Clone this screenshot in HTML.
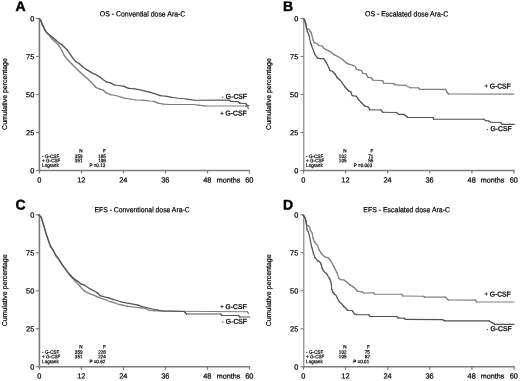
<!DOCTYPE html>
<html><head><meta charset="utf-8"><style>
html,body{margin:0;padding:0;background:#fff;}
svg{display:block;}
text{font-family:"Liberation Sans", sans-serif;fill:#000;stroke:#000;stroke-width:0.22px;}
</style></head><body>
<svg width="520" height="381" viewBox="0 0 520 381">
<rect width="520" height="381" fill="#fff"/>
<g opacity="0.999">
<path d="M39.4 17.9V171.3" fill="none" stroke="#7a7a7a" stroke-width="1.6"/>
<path d="M39.1 170.5H250.1" fill="none" stroke="#7d7d7d" stroke-width="1.6"/>
<path d="M35.8 18.5H39.5" stroke="#7d7d7d" stroke-width="1.2"/>
<text transform="matrix(1.0 0.001 0 1 34.3 21.2)" font-size="7.4" text-anchor="end">0</text>
<path d="M35.8 56.5H39.5" stroke="#7d7d7d" stroke-width="1.2"/>
<text transform="matrix(1.0 0.001 0 1 34.3 59.2)" font-size="7.4" text-anchor="end">75</text>
<path d="M35.8 94.5H39.5" stroke="#7d7d7d" stroke-width="1.2"/>
<text transform="matrix(1.0 0.001 0 1 34.3 97.2)" font-size="7.4" text-anchor="end">50</text>
<path d="M35.8 132.5H39.5" stroke="#7d7d7d" stroke-width="1.2"/>
<text transform="matrix(1.0 0.001 0 1 34.3 135.2)" font-size="7.4" text-anchor="end">25</text>
<path d="M35.8 170.5H39.5" stroke="#7d7d7d" stroke-width="1.2"/>
<text transform="matrix(1.0 0.001 0 1 34.3 173.2)" font-size="7.4" text-anchor="end">0</text>
<path d="M39.5 170.5V173.5" stroke="#7d7d7d" stroke-width="1.2"/>
<text transform="matrix(1.0 0.001 0 1 39.3 182.6)" font-size="7.4" text-anchor="middle">0</text>
<path d="M81.5 170.5V173.5" stroke="#7d7d7d" stroke-width="1.2"/>
<text transform="matrix(1.0 0.001 0 1 81.3 182.6)" font-size="7.4" text-anchor="middle">12</text>
<path d="M123.5 170.5V173.5" stroke="#7d7d7d" stroke-width="1.2"/>
<text transform="matrix(1.0 0.001 0 1 123.3 182.6)" font-size="7.4" text-anchor="middle">24</text>
<path d="M165.5 170.5V173.5" stroke="#7d7d7d" stroke-width="1.2"/>
<text transform="matrix(1.0 0.001 0 1 165.3 182.6)" font-size="7.4" text-anchor="middle">36</text>
<path d="M207.5 170.5V173.5" stroke="#7d7d7d" stroke-width="1.2"/>
<text transform="matrix(1.0 0.001 0 1 207.3 182.6)" font-size="7.4" text-anchor="middle">48</text>
<path d="M249.5 170.5V173.5" stroke="#7d7d7d" stroke-width="1.2"/>
<text transform="matrix(1.0 0.001 0 1 249.3 182.6)" font-size="7.4" text-anchor="middle">60</text>
<text transform="matrix(1.0 0.001 0 1 216.8 182.6)" font-size="7.2">months</text>
<text transform="matrix(0.925 0.001 0 1 142.6 16.4)" font-size="7.5" text-anchor="middle">OS - Convential dose Ara-C</text>
<text transform="matrix(1.0 0.001 0 1 15.4 11)" font-size="14" font-weight="bold" style="stroke-width:0.45px">A</text>
<text transform="matrix(0.92 0.001 0 1 82.5 152.5)" font-size="5.0" text-anchor="end">N</text>
<text transform="matrix(0.92 0.001 0 1 105.8 152.5)" font-size="5.0" text-anchor="end">F</text>
<text transform="matrix(0.92 0.001 0 1 42.1 157.9)" font-size="5.0">- G-CSF</text>
<text transform="matrix(0.92 0.001 0 1 82.5 157.9)" font-size="5.0" text-anchor="end">359</text>
<text transform="matrix(0.92 0.001 0 1 105.8 157.9)" font-size="5.0" text-anchor="end">185</text>
<text transform="matrix(0.92 0.001 0 1 42.1 162.3)" font-size="5.0">+ G-CSF</text>
<text transform="matrix(0.92 0.001 0 1 82.5 162.3)" font-size="5.0" text-anchor="end">351</text>
<text transform="matrix(0.92 0.001 0 1 105.8 162.3)" font-size="5.0" text-anchor="end">198</text>
<text transform="matrix(0.92 0.001 0 1 42.1 167)" font-size="5.0">Logrank</text>
<text transform="matrix(0.92 0.001 0 1 105.3 167)" font-size="5.0" text-anchor="end">P =0.13</text>
<path d="M39.6 18.9 L41.2 21.3" fill="none" stroke="#808080" stroke-width="1.35" stroke-linejoin="round" stroke-linecap="round"/>
<path d="M41.2 21.3 L42.2 24.4" fill="none" stroke="#808080" stroke-width="1.3" stroke-linejoin="round" stroke-linecap="round"/>
<path d="M42.2 24.4 L43.8 27.6 L45.4 30.7" fill="none" stroke="#808080" stroke-width="1.35" stroke-linejoin="round" stroke-linecap="round"/>
<path d="M45.4 30.7 L46.9 32.8 L48.5 34.4 L51.7 38.6 L54.8 41.7 L58 44.4" fill="none" stroke="#808080" stroke-width="1.4" stroke-linejoin="round" stroke-linecap="round"/>
<path d="M58 44.4 L60.1 47.5 L62.2 51.2 L64.2 55.3" fill="none" stroke="#808080" stroke-width="1.35" stroke-linejoin="round" stroke-linecap="round"/>
<path d="M64.2 55.3 L67.4 59.5 L71.6 63.7 L75.8 67.9 L80 72.1 L84.2 75.7 L88.4 79.4 L92.6 83.6 L95.7 87.3" fill="none" stroke="#808080" stroke-width="1.4" stroke-linejoin="round" stroke-linecap="round"/>
<path d="M95.7 87.3 L99.9 89.2" fill="none" stroke="#808080" stroke-width="1.35" stroke-linejoin="round" stroke-linecap="round"/>
<path d="M99.9 89.2 L103.2 90.2" fill="none" stroke="#808080" stroke-width="1.3" stroke-linejoin="round" stroke-linecap="round"/>
<path d="M103.2 90.2 L106.3 92.9" fill="none" stroke="#808080" stroke-width="1.4" stroke-linejoin="round" stroke-linecap="round"/>
<path d="M106.3 92.9 L110.5 94.7" fill="none" stroke="#808080" stroke-width="1.35" stroke-linejoin="round" stroke-linecap="round"/>
<path d="M110.5 94.7 L115.8 95.5" fill="none" stroke="#808080" stroke-width="1.25" stroke-linejoin="round" stroke-linecap="round"/>
<path d="M115.8 95.5 L121 97.1 L125.2 98.3" fill="none" stroke="#808080" stroke-width="1.3" stroke-linejoin="round" stroke-linecap="round"/>
<path d="M125.2 98.3 L130.5 99" fill="none" stroke="#808080" stroke-width="1.2" stroke-linejoin="round" stroke-linecap="round"/>
<path d="M130.5 99 L135.7 100" fill="none" stroke="#808080" stroke-width="1.25" stroke-linejoin="round" stroke-linecap="round"/>
<path d="M135.7 100 L142 100.2" fill="none" stroke="#808080" stroke-width="1.15" stroke-linejoin="round" stroke-linecap="round"/>
<path d="M142 100.2 L147.3 100.7 L150 101 L154.2 101.3" fill="none" stroke="#808080" stroke-width="1.2" stroke-linejoin="round" stroke-linecap="round"/>
<path d="M154.2 101.3 L157.7 103.1" fill="none" stroke="#808080" stroke-width="1.35" stroke-linejoin="round" stroke-linecap="round"/>
<path d="M157.7 103.1 L163.5 104.2" fill="none" stroke="#808080" stroke-width="1.25" stroke-linejoin="round" stroke-linecap="round"/>
<path d="M163.5 104.2 L168.1 104.4 L193.5 104.5" fill="none" stroke="#808080" stroke-width="1.15" stroke-linejoin="round" stroke-linecap="round"/>
<path d="M193.5 104.5 L198.1 105.2" fill="none" stroke="#808080" stroke-width="1.25" stroke-linejoin="round" stroke-linecap="round"/>
<path d="M198.1 105.2 L204.2 105.9" fill="none" stroke="#808080" stroke-width="1.2" stroke-linejoin="round" stroke-linecap="round"/>
<path d="M204.2 105.9 L210.4 106 L245.7 106" fill="none" stroke="#808080" stroke-width="1.15" stroke-linejoin="round" stroke-linecap="round"/>
<path d="M245.7 106 L247.8 107.1" fill="none" stroke="#808080" stroke-width="1.35" stroke-linejoin="round" stroke-linecap="round"/>
<path d="M247.8 107.1 L248.3 108.7" fill="none" stroke="#808080" stroke-width="1.3" stroke-linejoin="round" stroke-linecap="round"/>
<path d="M39.6 18.9 L41.2 21.3" fill="none" stroke="#525252" stroke-width="1.3" stroke-linejoin="round" stroke-linecap="round"/>
<path d="M41.2 21.3 L42.2 24.4" fill="none" stroke="#525252" stroke-width="1.25" stroke-linejoin="round" stroke-linecap="round"/>
<path d="M42.2 24.4 L43.8 27.6 L45.4 30.7 L46.9 32.8 L49.6 34.9 L52.7 37.5" fill="none" stroke="#525252" stroke-width="1.3" stroke-linejoin="round" stroke-linecap="round"/>
<path d="M52.7 37.5 L55.9 40.2" fill="none" stroke="#525252" stroke-width="1.35" stroke-linejoin="round" stroke-linecap="round"/>
<path d="M55.9 40.2 L59 42.8 L62.2 44.9" fill="none" stroke="#525252" stroke-width="1.3" stroke-linejoin="round" stroke-linecap="round"/>
<path d="M62.2 44.9 L65.3 48 L67.4 50" fill="none" stroke="#525252" stroke-width="1.35" stroke-linejoin="round" stroke-linecap="round"/>
<path d="M67.4 50 L69.5 53.2 L72.6 57.9" fill="none" stroke="#525252" stroke-width="1.3" stroke-linejoin="round" stroke-linecap="round"/>
<path d="M72.6 57.9 L75.8 61.6" fill="none" stroke="#525252" stroke-width="1.35" stroke-linejoin="round" stroke-linecap="round"/>
<path d="M75.8 61.6 L79.4 63.7" fill="none" stroke="#525252" stroke-width="1.3" stroke-linejoin="round" stroke-linecap="round"/>
<path d="M79.4 63.7 L82.1 66.3" fill="none" stroke="#525252" stroke-width="1.35" stroke-linejoin="round" stroke-linecap="round"/>
<path d="M82.1 66.3 L86.3 69.4 L91.5 72.6 L96.8 75.2 L100 77.1 L103.2 79.7 L106.3 81.8" fill="none" stroke="#525252" stroke-width="1.3" stroke-linejoin="round" stroke-linecap="round"/>
<path d="M106.3 81.8 L110.5 82.9" fill="none" stroke="#525252" stroke-width="1.2" stroke-linejoin="round" stroke-linecap="round"/>
<path d="M110.5 82.9 L114.7 85" fill="none" stroke="#525252" stroke-width="1.3" stroke-linejoin="round" stroke-linecap="round"/>
<path d="M114.7 85 L118.9 85.5" fill="none" stroke="#525252" stroke-width="1.15" stroke-linejoin="round" stroke-linecap="round"/>
<path d="M118.9 85.5 L124.2 86.3" fill="none" stroke="#525252" stroke-width="1.2" stroke-linejoin="round" stroke-linecap="round"/>
<path d="M124.2 86.3 L128.4 88.4" fill="none" stroke="#525252" stroke-width="1.3" stroke-linejoin="round" stroke-linecap="round"/>
<path d="M128.4 88.4 L133.6 88.7" fill="none" stroke="#525252" stroke-width="1.15" stroke-linejoin="round" stroke-linecap="round"/>
<path d="M133.6 88.7 L138.9 89.7 L144.1 90.8 L149.6 92.1" fill="none" stroke="#525252" stroke-width="1.2" stroke-linejoin="round" stroke-linecap="round"/>
<path d="M149.6 92.1 L155.4 93.8 L160 95.6" fill="none" stroke="#525252" stroke-width="1.25" stroke-linejoin="round" stroke-linecap="round"/>
<path d="M160 95.6 L165.8 96.2" fill="none" stroke="#525252" stroke-width="1.15" stroke-linejoin="round" stroke-linecap="round"/>
<path d="M165.8 96.2 L171.5 97.3" fill="none" stroke="#525252" stroke-width="1.2" stroke-linejoin="round" stroke-linecap="round"/>
<path d="M171.5 97.3 L178.5 98.2 L184.2 98.8 L188.8 99.4 L194.6 100.2" fill="none" stroke="#525252" stroke-width="1.15" stroke-linejoin="round" stroke-linecap="round"/>
<path d="M194.6 100.2 L229.1 100.1" fill="none" stroke="#525252" stroke-width="1.1" stroke-linejoin="round" stroke-linecap="round"/>
<path d="M229.1 100.1 L230.6 101.4" fill="none" stroke="#525252" stroke-width="1.35" stroke-linejoin="round" stroke-linecap="round"/>
<path d="M230.6 101.4 L238.4 101.6" fill="none" stroke="#525252" stroke-width="1.1" stroke-linejoin="round" stroke-linecap="round"/>
<path d="M238.4 101.6 L240 103.3" fill="none" stroke="#525252" stroke-width="1.35" stroke-linejoin="round" stroke-linecap="round"/>
<path d="M240 103.3 L245.7 103.5" fill="none" stroke="#525252" stroke-width="1.1" stroke-linejoin="round" stroke-linecap="round"/>
<path d="M245.7 103.5 L247.2 105.4" fill="none" stroke="#525252" stroke-width="1.3" stroke-linejoin="round" stroke-linecap="round"/>
<path d="M247.2 105.4 L248.8 105.8" fill="none" stroke="#525252" stroke-width="1.2" stroke-linejoin="round" stroke-linecap="round"/>
<text transform="matrix(0.97 0.001 0 1 225.87 98.7)" font-size="7.0" style="stroke-width:0.32px">G-CSF</text>
<text transform="matrix(1.0 0.001 0 1 222.7 98.55)" font-size="5.2" text-anchor="middle">-</text>
<text transform="matrix(0.97 0.001 0 1 225.47 115.6)" font-size="7.0" style="stroke-width:0.32px">G-CSF</text>
<text transform="matrix(1.0 0.001 0 1 222 115.2)" font-size="5.9" text-anchor="middle">+</text>
<path d="M303.7 17.9V171.3" fill="none" stroke="#9c9c9c" stroke-width="1.5"/>
<path d="M303.1 170.5H514.6" fill="none" stroke="#7d7d7d" stroke-width="1.6"/>
<path d="M300.5 18.5H303.5" stroke="#7d7d7d" stroke-width="1.2"/>
<text transform="matrix(1.0 0.001 0 1 298.3 21.2)" font-size="7.4" text-anchor="end">0</text>
<path d="M300.5 56.5H303.5" stroke="#7d7d7d" stroke-width="1.2"/>
<text transform="matrix(1.0 0.001 0 1 298.3 59.2)" font-size="7.4" text-anchor="end">75</text>
<path d="M300.5 94.5H303.5" stroke="#7d7d7d" stroke-width="1.2"/>
<text transform="matrix(1.0 0.001 0 1 298.3 97.2)" font-size="7.4" text-anchor="end">50</text>
<path d="M300.5 132.5H303.5" stroke="#7d7d7d" stroke-width="1.2"/>
<text transform="matrix(1.0 0.001 0 1 298.3 135.2)" font-size="7.4" text-anchor="end">25</text>
<path d="M300.5 170.5H303.5" stroke="#7d7d7d" stroke-width="1.2"/>
<text transform="matrix(1.0 0.001 0 1 298.3 173.2)" font-size="7.4" text-anchor="end">0</text>
<path d="M303.5 170.5V173.5" stroke="#7d7d7d" stroke-width="1.2"/>
<text transform="matrix(1.0 0.001 0 1 303.3 182.6)" font-size="7.4" text-anchor="middle">0</text>
<path d="M345.6 170.5V173.5" stroke="#7d7d7d" stroke-width="1.2"/>
<text transform="matrix(1.0 0.001 0 1 345.4 182.6)" font-size="7.4" text-anchor="middle">12</text>
<path d="M387.7 170.5V173.5" stroke="#7d7d7d" stroke-width="1.2"/>
<text transform="matrix(1.0 0.001 0 1 387.5 182.6)" font-size="7.4" text-anchor="middle">24</text>
<path d="M429.8 170.5V173.5" stroke="#7d7d7d" stroke-width="1.2"/>
<text transform="matrix(1.0 0.001 0 1 429.6 182.6)" font-size="7.4" text-anchor="middle">36</text>
<path d="M471.9 170.5V173.5" stroke="#7d7d7d" stroke-width="1.2"/>
<text transform="matrix(1.0 0.001 0 1 471.7 182.6)" font-size="7.4" text-anchor="middle">48</text>
<path d="M514 170.5V173.5" stroke="#7d7d7d" stroke-width="1.2"/>
<text transform="matrix(1.0 0.001 0 1 513.8 182.6)" font-size="7.4" text-anchor="middle">60</text>
<text transform="matrix(1.0 0.001 0 1 480.8 182.6)" font-size="7.2">months</text>
<text transform="matrix(0.925 0.001 0 1 406.6 16.4)" font-size="7.5" text-anchor="middle">OS - Escalated dose Ara-C</text>
<text transform="matrix(1.0 0.001 0 1 283.1 11)" font-size="14" font-weight="bold" style="stroke-width:0.45px">B</text>
<text transform="matrix(0.92 0.001 0 1 346.5 152.5)" font-size="5.0" text-anchor="end">N</text>
<text transform="matrix(0.92 0.001 0 1 373.3 152.5)" font-size="5.0" text-anchor="end">F</text>
<text transform="matrix(0.92 0.001 0 1 306.1 157.9)" font-size="5.0">- G-CSF</text>
<text transform="matrix(0.92 0.001 0 1 346.5 157.9)" font-size="5.0" text-anchor="end">102</text>
<text transform="matrix(0.92 0.001 0 1 373.3 157.9)" font-size="5.0" text-anchor="end">71</text>
<text transform="matrix(0.92 0.001 0 1 306.1 162.3)" font-size="5.0">+ G-CSF</text>
<text transform="matrix(0.92 0.001 0 1 346.5 162.3)" font-size="5.0" text-anchor="end">105</text>
<text transform="matrix(0.92 0.001 0 1 373.3 162.3)" font-size="5.0" text-anchor="end">55</text>
<text transform="matrix(0.92 0.001 0 1 306.1 167)" font-size="5.0">Logrank</text>
<text transform="matrix(0.92 0.001 0 1 372.2 167)" font-size="5.0" text-anchor="end">P =0.003</text>
<path d="M303.7 18.7 L305.8 23.9" fill="none" stroke="#808080" stroke-width="1.3" stroke-linejoin="round" stroke-linecap="round"/>
<path d="M305.8 23.9 L306.5 28.1" fill="none" stroke="#808080" stroke-width="1.25" stroke-linejoin="round" stroke-linecap="round"/>
<path d="M306.5 28.1 L307.4 29.2" fill="none" stroke="#808080" stroke-width="1.4" stroke-linejoin="round" stroke-linecap="round"/>
<path d="M307.4 29.2 L308.9 29.2" fill="none" stroke="#808080" stroke-width="1.15" stroke-linejoin="round" stroke-linecap="round"/>
<path d="M308.9 29.2 L310 31.3" fill="none" stroke="#808080" stroke-width="1.35" stroke-linejoin="round" stroke-linecap="round"/>
<path d="M310 31.3 L311 32.3" fill="none" stroke="#808080" stroke-width="1.4" stroke-linejoin="round" stroke-linecap="round"/>
<path d="M311 32.3 L312.1 36" fill="none" stroke="#808080" stroke-width="1.3" stroke-linejoin="round" stroke-linecap="round"/>
<path d="M312.1 36 L313.1 40.2" fill="none" stroke="#808080" stroke-width="1.25" stroke-linejoin="round" stroke-linecap="round"/>
<path d="M313.1 40.2 L314.2 42.8" fill="none" stroke="#808080" stroke-width="1.35" stroke-linejoin="round" stroke-linecap="round"/>
<path d="M314.2 42.8 L316.8 43.4" fill="none" stroke="#808080" stroke-width="1.25" stroke-linejoin="round" stroke-linecap="round"/>
<path d="M316.8 43.4 L318.9 45.5" fill="none" stroke="#808080" stroke-width="1.4" stroke-linejoin="round" stroke-linecap="round"/>
<path d="M318.9 45.5 L322.1 46" fill="none" stroke="#808080" stroke-width="1.25" stroke-linejoin="round" stroke-linecap="round"/>
<path d="M322.1 46 L324.2 48.6" fill="none" stroke="#808080" stroke-width="1.4" stroke-linejoin="round" stroke-linecap="round"/>
<path d="M324.2 48.6 L327.3 50.2 L331 52.1" fill="none" stroke="#808080" stroke-width="1.35" stroke-linejoin="round" stroke-linecap="round"/>
<path d="M331 52.1 L334.2 54.7" fill="none" stroke="#808080" stroke-width="1.4" stroke-linejoin="round" stroke-linecap="round"/>
<path d="M334.2 54.7 L338.4 56.8 L342.6 59.5" fill="none" stroke="#808080" stroke-width="1.35" stroke-linejoin="round" stroke-linecap="round"/>
<path d="M342.6 59.5 L345.7 62.6" fill="none" stroke="#808080" stroke-width="1.4" stroke-linejoin="round" stroke-linecap="round"/>
<path d="M345.7 62.6 L348.9 64.2" fill="none" stroke="#808080" stroke-width="1.35" stroke-linejoin="round" stroke-linecap="round"/>
<path d="M348.9 64.2 L352.3 65.2 L355.2 66.3 L356.3 69.2" fill="none" stroke="#808080" stroke-width="1.3" stroke-linejoin="round" stroke-linecap="round"/>
<path d="M356.3 69.2 L358.7 69.8" fill="none" stroke="#808080" stroke-width="1.25" stroke-linejoin="round" stroke-linecap="round"/>
<path d="M358.7 69.8 L361.5 70.6" fill="none" stroke="#808080" stroke-width="1.3" stroke-linejoin="round" stroke-linecap="round"/>
<path d="M361.5 70.6 L362.7 73.3" fill="none" stroke="#808080" stroke-width="1.35" stroke-linejoin="round" stroke-linecap="round"/>
<path d="M362.7 73.3 L366.2 73.8" fill="none" stroke="#808080" stroke-width="1.25" stroke-linejoin="round" stroke-linecap="round"/>
<path d="M366.2 73.8 L367.9 77.3" fill="none" stroke="#808080" stroke-width="1.35" stroke-linejoin="round" stroke-linecap="round"/>
<path d="M367.9 77.3 L371.3 77.9" fill="none" stroke="#808080" stroke-width="1.25" stroke-linejoin="round" stroke-linecap="round"/>
<path d="M371.3 77.9 L373.1 80.2" fill="none" stroke="#808080" stroke-width="1.4" stroke-linejoin="round" stroke-linecap="round"/>
<path d="M373.1 80.2 L382.7 80.6" fill="none" stroke="#808080" stroke-width="1.15" stroke-linejoin="round" stroke-linecap="round"/>
<path d="M382.7 80.6 L383.7 83.3" fill="none" stroke="#808080" stroke-width="1.3" stroke-linejoin="round" stroke-linecap="round"/>
<path d="M383.7 83.3 L393.8 83.6" fill="none" stroke="#808080" stroke-width="1.15" stroke-linejoin="round" stroke-linecap="round"/>
<path d="M393.8 83.6 L395.2 84.8" fill="none" stroke="#808080" stroke-width="1.4" stroke-linejoin="round" stroke-linecap="round"/>
<path d="M395.2 84.8 L405.6 85.3" fill="none" stroke="#808080" stroke-width="1.2" stroke-linejoin="round" stroke-linecap="round"/>
<path d="M405.6 85.3 L407.5 86.5 L410.4 87.7" fill="none" stroke="#808080" stroke-width="1.35" stroke-linejoin="round" stroke-linecap="round"/>
<path d="M410.4 87.7 L418.5 87.9" fill="none" stroke="#808080" stroke-width="1.15" stroke-linejoin="round" stroke-linecap="round"/>
<path d="M418.5 87.9 L419.6 89.3" fill="none" stroke="#808080" stroke-width="1.4" stroke-linejoin="round" stroke-linecap="round"/>
<path d="M419.6 89.3 L445.6 89.3" fill="none" stroke="#808080" stroke-width="1.15" stroke-linejoin="round" stroke-linecap="round"/>
<path d="M445.6 89.3 L446.7 91.7" fill="none" stroke="#808080" stroke-width="1.35" stroke-linejoin="round" stroke-linecap="round"/>
<path d="M446.7 91.7 L448.5 94" fill="none" stroke="#808080" stroke-width="1.4" stroke-linejoin="round" stroke-linecap="round"/>
<path d="M448.5 94 L514 94.1" fill="none" stroke="#808080" stroke-width="1.15" stroke-linejoin="round" stroke-linecap="round"/>
<path d="M303.7 18.7 L304.7 20.3" fill="none" stroke="#525252" stroke-width="1.3" stroke-linejoin="round" stroke-linecap="round"/>
<path d="M304.7 20.3 L305.8 23.9" fill="none" stroke="#525252" stroke-width="1.25" stroke-linejoin="round" stroke-linecap="round"/>
<path d="M305.8 23.9 L306.5 28.1 L307.4 31.8" fill="none" stroke="#525252" stroke-width="1.2" stroke-linejoin="round" stroke-linecap="round"/>
<path d="M307.4 31.8 L308.9 35" fill="none" stroke="#525252" stroke-width="1.3" stroke-linejoin="round" stroke-linecap="round"/>
<path d="M308.9 35 L310 40.2 L311 43.9" fill="none" stroke="#525252" stroke-width="1.2" stroke-linejoin="round" stroke-linecap="round"/>
<path d="M311 43.9 L312.6 48.6 L314.2 52.3" fill="none" stroke="#525252" stroke-width="1.25" stroke-linejoin="round" stroke-linecap="round"/>
<path d="M314.2 52.3 L314.7 54.2" fill="none" stroke="#525252" stroke-width="1.2" stroke-linejoin="round" stroke-linecap="round"/>
<path d="M314.7 54.2 L317.4 57.9" fill="none" stroke="#525252" stroke-width="1.3" stroke-linejoin="round" stroke-linecap="round"/>
<path d="M317.4 57.9 L320.5 58.6" fill="none" stroke="#525252" stroke-width="1.2" stroke-linejoin="round" stroke-linecap="round"/>
<path d="M320.5 58.6 L323.7 58.9" fill="none" stroke="#525252" stroke-width="1.15" stroke-linejoin="round" stroke-linecap="round"/>
<path d="M323.7 58.9 L325.8 61.6 L327.9 65.8 L330 70.5" fill="none" stroke="#525252" stroke-width="1.3" stroke-linejoin="round" stroke-linecap="round"/>
<path d="M330 70.5 L332.6 71.5" fill="none" stroke="#525252" stroke-width="1.25" stroke-linejoin="round" stroke-linecap="round"/>
<path d="M332.6 71.5 L335.2 74.2" fill="none" stroke="#525252" stroke-width="1.35" stroke-linejoin="round" stroke-linecap="round"/>
<path d="M335.2 74.2 L337.3 77.8" fill="none" stroke="#525252" stroke-width="1.3" stroke-linejoin="round" stroke-linecap="round"/>
<path d="M337.3 77.8 L340.5 80.5" fill="none" stroke="#525252" stroke-width="1.35" stroke-linejoin="round" stroke-linecap="round"/>
<path d="M340.5 80.5 L342.6 83.6 L345.2 87.2" fill="none" stroke="#525252" stroke-width="1.3" stroke-linejoin="round" stroke-linecap="round"/>
<path d="M345.2 87.2 L348.7 91" fill="none" stroke="#525252" stroke-width="1.35" stroke-linejoin="round" stroke-linecap="round"/>
<path d="M348.7 91 L351 92.1" fill="none" stroke="#525252" stroke-width="1.3" stroke-linejoin="round" stroke-linecap="round"/>
<path d="M351 92.1 L352.1 95.6" fill="none" stroke="#525252" stroke-width="1.25" stroke-linejoin="round" stroke-linecap="round"/>
<path d="M352.1 95.6 L356.2 96.2" fill="none" stroke="#525252" stroke-width="1.15" stroke-linejoin="round" stroke-linecap="round"/>
<path d="M356.2 96.2 L358.5 99.6" fill="none" stroke="#525252" stroke-width="1.3" stroke-linejoin="round" stroke-linecap="round"/>
<path d="M358.5 99.6 L361.3 102.5 L364.8 106" fill="none" stroke="#525252" stroke-width="1.35" stroke-linejoin="round" stroke-linecap="round"/>
<path d="M364.8 106 L368.3 107.1" fill="none" stroke="#525252" stroke-width="1.25" stroke-linejoin="round" stroke-linecap="round"/>
<path d="M368.3 107.1 L370 109.8" fill="none" stroke="#525252" stroke-width="1.3" stroke-linejoin="round" stroke-linecap="round"/>
<path d="M370 109.8 L381 110" fill="none" stroke="#525252" stroke-width="1.1" stroke-linejoin="round" stroke-linecap="round"/>
<path d="M381 110 L382.7 112.3" fill="none" stroke="#525252" stroke-width="1.3" stroke-linejoin="round" stroke-linecap="round"/>
<path d="M382.7 112.3 L396.5 112.5" fill="none" stroke="#525252" stroke-width="1.1" stroke-linejoin="round" stroke-linecap="round"/>
<path d="M396.5 112.5 L399 114.4" fill="none" stroke="#525252" stroke-width="1.3" stroke-linejoin="round" stroke-linecap="round"/>
<path d="M399 114.4 L403.7 114.4" fill="none" stroke="#525252" stroke-width="1.1" stroke-linejoin="round" stroke-linecap="round"/>
<path d="M403.7 114.4 L406.5 116.2" fill="none" stroke="#525252" stroke-width="1.3" stroke-linejoin="round" stroke-linecap="round"/>
<path d="M406.5 116.2 L407.7 117.5" fill="none" stroke="#525252" stroke-width="1.35" stroke-linejoin="round" stroke-linecap="round"/>
<path d="M407.7 117.5 L433.1 117.5" fill="none" stroke="#525252" stroke-width="1.1" stroke-linejoin="round" stroke-linecap="round"/>
<path d="M433.1 117.5 L433.7 119.2" fill="none" stroke="#525252" stroke-width="1.25" stroke-linejoin="round" stroke-linecap="round"/>
<path d="M433.7 119.2 L483.8 119.2" fill="none" stroke="#525252" stroke-width="1.1" stroke-linejoin="round" stroke-linecap="round"/>
<path d="M483.8 119.2 L485.6 120.6" fill="none" stroke="#525252" stroke-width="1.3" stroke-linejoin="round" stroke-linecap="round"/>
<path d="M485.6 120.6 L488.8 121" fill="none" stroke="#525252" stroke-width="1.15" stroke-linejoin="round" stroke-linecap="round"/>
<path d="M488.8 121 L490.6 122.3" fill="none" stroke="#525252" stroke-width="1.3" stroke-linejoin="round" stroke-linecap="round"/>
<path d="M490.6 122.3 L500.6 122.5" fill="none" stroke="#525252" stroke-width="1.1" stroke-linejoin="round" stroke-linecap="round"/>
<path d="M500.6 122.5 L502.3 124.4" fill="none" stroke="#525252" stroke-width="1.35" stroke-linejoin="round" stroke-linecap="round"/>
<path d="M502.3 124.4 L514.4 124.4" fill="none" stroke="#525252" stroke-width="1.1" stroke-linejoin="round" stroke-linecap="round"/>
<text transform="matrix(0.97 0.001 0 1 489.67 88.4)" font-size="7.0" style="stroke-width:0.32px">G-CSF</text>
<text transform="matrix(1.0 0.001 0 1 486.2 88)" font-size="5.9" text-anchor="middle">+</text>
<text transform="matrix(0.97 0.001 0 1 490.47 131)" font-size="7.0" style="stroke-width:0.32px">G-CSF</text>
<text transform="matrix(1.0 0.001 0 1 487.3 130.85)" font-size="5.2" text-anchor="middle">-</text>
<path d="M39.4 214.2V367.6" fill="none" stroke="#7a7a7a" stroke-width="1.6"/>
<path d="M39.1 366.8H250.1" fill="none" stroke="#7d7d7d" stroke-width="1.6"/>
<path d="M35.8 214.8H39.5" stroke="#7d7d7d" stroke-width="1.2"/>
<text transform="matrix(1.0 0.001 0 1 34.3 217.5)" font-size="7.4" text-anchor="end">0</text>
<path d="M35.8 252.8H39.5" stroke="#7d7d7d" stroke-width="1.2"/>
<text transform="matrix(1.0 0.001 0 1 34.3 255.5)" font-size="7.4" text-anchor="end">75</text>
<path d="M35.8 290.8H39.5" stroke="#7d7d7d" stroke-width="1.2"/>
<text transform="matrix(1.0 0.001 0 1 34.3 293.5)" font-size="7.4" text-anchor="end">50</text>
<path d="M35.8 328.8H39.5" stroke="#7d7d7d" stroke-width="1.2"/>
<text transform="matrix(1.0 0.001 0 1 34.3 331.5)" font-size="7.4" text-anchor="end">25</text>
<path d="M35.8 366.8H39.5" stroke="#7d7d7d" stroke-width="1.2"/>
<text transform="matrix(1.0 0.001 0 1 34.3 369.5)" font-size="7.4" text-anchor="end">0</text>
<path d="M39.5 366.8V369.8" stroke="#7d7d7d" stroke-width="1.2"/>
<text transform="matrix(1.0 0.001 0 1 39.3 378.6)" font-size="7.4" text-anchor="middle">0</text>
<path d="M81.5 366.8V369.8" stroke="#7d7d7d" stroke-width="1.2"/>
<text transform="matrix(1.0 0.001 0 1 81.3 378.6)" font-size="7.4" text-anchor="middle">12</text>
<path d="M123.5 366.8V369.8" stroke="#7d7d7d" stroke-width="1.2"/>
<text transform="matrix(1.0 0.001 0 1 123.3 378.6)" font-size="7.4" text-anchor="middle">24</text>
<path d="M165.5 366.8V369.8" stroke="#7d7d7d" stroke-width="1.2"/>
<text transform="matrix(1.0 0.001 0 1 165.3 378.6)" font-size="7.4" text-anchor="middle">36</text>
<path d="M207.5 366.8V369.8" stroke="#7d7d7d" stroke-width="1.2"/>
<text transform="matrix(1.0 0.001 0 1 207.3 378.6)" font-size="7.4" text-anchor="middle">48</text>
<path d="M249.5 366.8V369.8" stroke="#7d7d7d" stroke-width="1.2"/>
<text transform="matrix(1.0 0.001 0 1 249.3 378.6)" font-size="7.4" text-anchor="middle">60</text>
<text transform="matrix(1.0 0.001 0 1 216.8 378.6)" font-size="7.2">months</text>
<text transform="matrix(0.912 0.001 0 1 142.1 212.3)" font-size="7.5" text-anchor="middle">EFS - Conventional dose Ara-C</text>
<text transform="matrix(1.0 0.001 0 1 15.6 209.5)" font-size="14" font-weight="bold" style="stroke-width:0.45px">C</text>
<text transform="matrix(0.92 0.001 0 1 82.5 348.6)" font-size="5.0" text-anchor="end">N</text>
<text transform="matrix(0.92 0.001 0 1 105.8 348.6)" font-size="5.0" text-anchor="end">F</text>
<text transform="matrix(0.92 0.001 0 1 42.1 353.8)" font-size="5.0">- G-CSF</text>
<text transform="matrix(0.92 0.001 0 1 82.5 353.8)" font-size="5.0" text-anchor="end">359</text>
<text transform="matrix(0.92 0.001 0 1 105.8 353.8)" font-size="5.0" text-anchor="end">228</text>
<text transform="matrix(0.92 0.001 0 1 42.1 358.2)" font-size="5.0">+ G-CSF</text>
<text transform="matrix(0.92 0.001 0 1 82.5 358.2)" font-size="5.0" text-anchor="end">351</text>
<text transform="matrix(0.92 0.001 0 1 105.8 358.2)" font-size="5.0" text-anchor="end">224</text>
<text transform="matrix(0.92 0.001 0 1 42.1 363.2)" font-size="5.0">Logrank</text>
<text transform="matrix(0.92 0.001 0 1 105.3 363.2)" font-size="5.0" text-anchor="end">P =0.62</text>
<path d="M39.1 215.2 L41.2 217.3" fill="none" stroke="#808080" stroke-width="1.4" stroke-linejoin="round" stroke-linecap="round"/>
<path d="M41.2 217.3 L42.8 222.5 L44.4 227.8 L45.9 233 L47.5 237.7 L49.1 242.5 L50.7 246.7" fill="none" stroke="#808080" stroke-width="1.3" stroke-linejoin="round" stroke-linecap="round"/>
<path d="M50.7 246.7 L53.2 250.3" fill="none" stroke="#808080" stroke-width="1.4" stroke-linejoin="round" stroke-linecap="round"/>
<path d="M53.2 250.3 L55.8 255.5" fill="none" stroke="#808080" stroke-width="1.35" stroke-linejoin="round" stroke-linecap="round"/>
<path d="M55.8 255.5 L58.4 258.7" fill="none" stroke="#808080" stroke-width="1.4" stroke-linejoin="round" stroke-linecap="round"/>
<path d="M58.4 258.7 L61.6 263.9" fill="none" stroke="#808080" stroke-width="1.35" stroke-linejoin="round" stroke-linecap="round"/>
<path d="M61.6 263.9 L64.7 268.1 L67.9 272.3 L71 276.5 L75 281 L78.2 284.2 L81.3 287.9 L84.5 291" fill="none" stroke="#808080" stroke-width="1.4" stroke-linejoin="round" stroke-linecap="round"/>
<path d="M84.5 291 L87.6 292.6 L90.8 294.2" fill="none" stroke="#808080" stroke-width="1.35" stroke-linejoin="round" stroke-linecap="round"/>
<path d="M90.8 294.2 L93.9 295.2" fill="none" stroke="#808080" stroke-width="1.3" stroke-linejoin="round" stroke-linecap="round"/>
<path d="M93.9 295.2 L97.1 296.8" fill="none" stroke="#808080" stroke-width="1.35" stroke-linejoin="round" stroke-linecap="round"/>
<path d="M97.1 296.8 L101.3 298.4 L105.5 299.9 L109.7 301.5 L113.9 302.6 L118.1 304.1 L122.3 305.2" fill="none" stroke="#808080" stroke-width="1.3" stroke-linejoin="round" stroke-linecap="round"/>
<path d="M122.3 305.2 L126.9 306.2" fill="none" stroke="#808080" stroke-width="1.25" stroke-linejoin="round" stroke-linecap="round"/>
<path d="M126.9 306.2 L133.8 307.1 L140.8 307.9 L146.5 308.7" fill="none" stroke="#808080" stroke-width="1.2" stroke-linejoin="round" stroke-linecap="round"/>
<path d="M146.5 308.7 L148.8 310.2" fill="none" stroke="#808080" stroke-width="1.35" stroke-linejoin="round" stroke-linecap="round"/>
<path d="M148.8 310.2 L154.6 310.8" fill="none" stroke="#808080" stroke-width="1.2" stroke-linejoin="round" stroke-linecap="round"/>
<path d="M154.6 310.8 L161.5 311.1 L171.9 311.3 L247.3 311.7" fill="none" stroke="#808080" stroke-width="1.15" stroke-linejoin="round" stroke-linecap="round"/>
<path d="M247.3 311.7 L248.5 313.5" fill="none" stroke="#808080" stroke-width="1.35" stroke-linejoin="round" stroke-linecap="round"/>
<path d="M39.1 215.2 L41.2 217.3" fill="none" stroke="#525252" stroke-width="1.35" stroke-linejoin="round" stroke-linecap="round"/>
<path d="M41.2 217.3 L42.8 222.5 L44.4 227.8 L45.9 233 L47.5 237.7 L49.1 242.5 L50.7 246.7" fill="none" stroke="#525252" stroke-width="1.25" stroke-linejoin="round" stroke-linecap="round"/>
<path d="M50.7 246.7 L53.2 250.3 L55.8 255.5 L58.4 258.7 L61.6 263.9 L64.7 268.1 L67.9 272.3 L71 276" fill="none" stroke="#525252" stroke-width="1.3" stroke-linejoin="round" stroke-linecap="round"/>
<path d="M71 276 L75 279.5" fill="none" stroke="#525252" stroke-width="1.35" stroke-linejoin="round" stroke-linecap="round"/>
<path d="M75 279.5 L78.2 281.6 L81.3 284.2" fill="none" stroke="#525252" stroke-width="1.3" stroke-linejoin="round" stroke-linecap="round"/>
<path d="M81.3 284.2 L84.5 285.2" fill="none" stroke="#525252" stroke-width="1.25" stroke-linejoin="round" stroke-linecap="round"/>
<path d="M84.5 285.2 L87.6 287.3 L90.8 289.4 L94.4 291 L97.6 293.1" fill="none" stroke="#525252" stroke-width="1.3" stroke-linejoin="round" stroke-linecap="round"/>
<path d="M97.6 293.1 L100.2 295.7" fill="none" stroke="#525252" stroke-width="1.35" stroke-linejoin="round" stroke-linecap="round"/>
<path d="M100.2 295.7 L104.4 296.8 L108.6 297.8" fill="none" stroke="#525252" stroke-width="1.2" stroke-linejoin="round" stroke-linecap="round"/>
<path d="M108.6 297.8 L112.8 299.4" fill="none" stroke="#525252" stroke-width="1.25" stroke-linejoin="round" stroke-linecap="round"/>
<path d="M112.8 299.4 L117 300.5" fill="none" stroke="#525252" stroke-width="1.2" stroke-linejoin="round" stroke-linecap="round"/>
<path d="M117 300.5 L121.2 302" fill="none" stroke="#525252" stroke-width="1.25" stroke-linejoin="round" stroke-linecap="round"/>
<path d="M121.2 302 L125.8 302.9 L131.5 303.8 L137.3 304.8" fill="none" stroke="#525252" stroke-width="1.2" stroke-linejoin="round" stroke-linecap="round"/>
<path d="M137.3 304.8 L141.9 306.7" fill="none" stroke="#525252" stroke-width="1.25" stroke-linejoin="round" stroke-linecap="round"/>
<path d="M141.9 306.7 L146.5 307.5 L152.3 309 L158.1 310.2" fill="none" stroke="#525252" stroke-width="1.2" stroke-linejoin="round" stroke-linecap="round"/>
<path d="M158.1 310.2 L163.8 311" fill="none" stroke="#525252" stroke-width="1.15" stroke-linejoin="round" stroke-linecap="round"/>
<path d="M163.8 311 L171.9 311.1 L184.2 311.5" fill="none" stroke="#525252" stroke-width="1.1" stroke-linejoin="round" stroke-linecap="round"/>
<path d="M184.2 311.5 L186.5 314" fill="none" stroke="#525252" stroke-width="1.35" stroke-linejoin="round" stroke-linecap="round"/>
<path d="M186.5 314 L220.8 314" fill="none" stroke="#525252" stroke-width="1.1" stroke-linejoin="round" stroke-linecap="round"/>
<path d="M220.8 314 L221.9 315.5" fill="none" stroke="#525252" stroke-width="1.3" stroke-linejoin="round" stroke-linecap="round"/>
<path d="M221.9 315.5 L238.7 315.5" fill="none" stroke="#525252" stroke-width="1.1" stroke-linejoin="round" stroke-linecap="round"/>
<path d="M238.7 315.5 L239.8 317" fill="none" stroke="#525252" stroke-width="1.3" stroke-linejoin="round" stroke-linecap="round"/>
<path d="M239.8 317 L249.6 317" fill="none" stroke="#525252" stroke-width="1.1" stroke-linejoin="round" stroke-linecap="round"/>
<text transform="matrix(0.97 0.001 0 1 225.47 309.1)" font-size="7.0" style="stroke-width:0.32px">G-CSF</text>
<text transform="matrix(1.0 0.001 0 1 222 308.7)" font-size="5.9" text-anchor="middle">+</text>
<text transform="matrix(0.97 0.001 0 1 225.87 323.7)" font-size="7.0" style="stroke-width:0.32px">G-CSF</text>
<text transform="matrix(1.0 0.001 0 1 222.7 323.55)" font-size="5.2" text-anchor="middle">-</text>
<path d="M303.7 214.2V367.6" fill="none" stroke="#9c9c9c" stroke-width="1.5"/>
<path d="M303.1 366.8H514.6" fill="none" stroke="#7d7d7d" stroke-width="1.6"/>
<path d="M300.5 214.8H303.5" stroke="#7d7d7d" stroke-width="1.2"/>
<text transform="matrix(1.0 0.001 0 1 298.3 217.5)" font-size="7.4" text-anchor="end">0</text>
<path d="M300.5 252.8H303.5" stroke="#7d7d7d" stroke-width="1.2"/>
<text transform="matrix(1.0 0.001 0 1 298.3 255.5)" font-size="7.4" text-anchor="end">75</text>
<path d="M300.5 290.8H303.5" stroke="#7d7d7d" stroke-width="1.2"/>
<text transform="matrix(1.0 0.001 0 1 298.3 293.5)" font-size="7.4" text-anchor="end">50</text>
<path d="M300.5 328.8H303.5" stroke="#7d7d7d" stroke-width="1.2"/>
<text transform="matrix(1.0 0.001 0 1 298.3 331.5)" font-size="7.4" text-anchor="end">25</text>
<path d="M300.5 366.8H303.5" stroke="#7d7d7d" stroke-width="1.2"/>
<text transform="matrix(1.0 0.001 0 1 298.3 369.5)" font-size="7.4" text-anchor="end">0</text>
<path d="M303.5 366.8V369.8" stroke="#7d7d7d" stroke-width="1.2"/>
<text transform="matrix(1.0 0.001 0 1 303.3 378.6)" font-size="7.4" text-anchor="middle">0</text>
<path d="M345.6 366.8V369.8" stroke="#7d7d7d" stroke-width="1.2"/>
<text transform="matrix(1.0 0.001 0 1 345.4 378.6)" font-size="7.4" text-anchor="middle">12</text>
<path d="M387.7 366.8V369.8" stroke="#7d7d7d" stroke-width="1.2"/>
<text transform="matrix(1.0 0.001 0 1 387.5 378.6)" font-size="7.4" text-anchor="middle">24</text>
<path d="M429.8 366.8V369.8" stroke="#7d7d7d" stroke-width="1.2"/>
<text transform="matrix(1.0 0.001 0 1 429.6 378.6)" font-size="7.4" text-anchor="middle">36</text>
<path d="M471.9 366.8V369.8" stroke="#7d7d7d" stroke-width="1.2"/>
<text transform="matrix(1.0 0.001 0 1 471.7 378.6)" font-size="7.4" text-anchor="middle">48</text>
<path d="M514 366.8V369.8" stroke="#7d7d7d" stroke-width="1.2"/>
<text transform="matrix(1.0 0.001 0 1 513.8 378.6)" font-size="7.4" text-anchor="middle">60</text>
<text transform="matrix(1.0 0.001 0 1 480.8 378.6)" font-size="7.2">months</text>
<text transform="matrix(0.925 0.001 0 1 406.7 212.3)" font-size="7.5" text-anchor="middle">EFS - Escalated dose Ara-C</text>
<text transform="matrix(1.0 0.001 0 1 283.1 209.5)" font-size="14" font-weight="bold" style="stroke-width:0.45px">D</text>
<text transform="matrix(0.92 0.001 0 1 346.5 348.6)" font-size="5.0" text-anchor="end">N</text>
<text transform="matrix(0.92 0.001 0 1 369.8 348.6)" font-size="5.0" text-anchor="end">F</text>
<text transform="matrix(0.92 0.001 0 1 306.1 353.8)" font-size="5.0">- G-CSF</text>
<text transform="matrix(0.92 0.001 0 1 346.5 353.8)" font-size="5.0" text-anchor="end">102</text>
<text transform="matrix(0.92 0.001 0 1 369.8 353.8)" font-size="5.0" text-anchor="end">75</text>
<text transform="matrix(0.92 0.001 0 1 306.1 358.2)" font-size="5.0">+ G-CSF</text>
<text transform="matrix(0.92 0.001 0 1 346.5 358.2)" font-size="5.0" text-anchor="end">105</text>
<text transform="matrix(0.92 0.001 0 1 369.8 358.2)" font-size="5.0" text-anchor="end">62</text>
<text transform="matrix(0.92 0.001 0 1 306.1 363.2)" font-size="5.0">Logrank</text>
<text transform="matrix(0.92 0.001 0 1 369.2 363.2)" font-size="5.0" text-anchor="end">P =0.01</text>
<path d="M303.2 215.2 L304.7 217.3" fill="none" stroke="#808080" stroke-width="1.4" stroke-linejoin="round" stroke-linecap="round"/>
<path d="M304.7 217.3 L305.8 220.4" fill="none" stroke="#808080" stroke-width="1.3" stroke-linejoin="round" stroke-linecap="round"/>
<path d="M305.8 220.4 L306.5 225.1" fill="none" stroke="#808080" stroke-width="1.25" stroke-linejoin="round" stroke-linecap="round"/>
<path d="M306.5 225.1 L308.4 225.7" fill="none" stroke="#808080" stroke-width="1.3" stroke-linejoin="round" stroke-linecap="round"/>
<path d="M308.4 225.7 L309.5 226.7" fill="none" stroke="#808080" stroke-width="1.4" stroke-linejoin="round" stroke-linecap="round"/>
<path d="M309.5 226.7 L310.5 230.4" fill="none" stroke="#808080" stroke-width="1.3" stroke-linejoin="round" stroke-linecap="round"/>
<path d="M310.5 230.4 L312.1 233" fill="none" stroke="#808080" stroke-width="1.35" stroke-linejoin="round" stroke-linecap="round"/>
<path d="M312.1 233 L313.1 238.3" fill="none" stroke="#808080" stroke-width="1.25" stroke-linejoin="round" stroke-linecap="round"/>
<path d="M313.1 238.3 L314.2 241.4" fill="none" stroke="#808080" stroke-width="1.3" stroke-linejoin="round" stroke-linecap="round"/>
<path d="M314.2 241.4 L315.8 243.5 L317.5 245.4" fill="none" stroke="#808080" stroke-width="1.4" stroke-linejoin="round" stroke-linecap="round"/>
<path d="M317.5 245.4 L318.7 249.2" fill="none" stroke="#808080" stroke-width="1.3" stroke-linejoin="round" stroke-linecap="round"/>
<path d="M318.7 249.2 L321.3 253.4" fill="none" stroke="#808080" stroke-width="1.35" stroke-linejoin="round" stroke-linecap="round"/>
<path d="M321.3 253.4 L324.4 256.6" fill="none" stroke="#808080" stroke-width="1.4" stroke-linejoin="round" stroke-linecap="round"/>
<path d="M324.4 256.6 L328.6 258.1" fill="none" stroke="#808080" stroke-width="1.3" stroke-linejoin="round" stroke-linecap="round"/>
<path d="M328.6 258.1 L330.2 260.2" fill="none" stroke="#808080" stroke-width="1.4" stroke-linejoin="round" stroke-linecap="round"/>
<path d="M330.2 260.2 L332.8 264.4 L334.9 268.6 L337 272.8" fill="none" stroke="#808080" stroke-width="1.35" stroke-linejoin="round" stroke-linecap="round"/>
<path d="M337 272.8 L339.1 278.6" fill="none" stroke="#808080" stroke-width="1.3" stroke-linejoin="round" stroke-linecap="round"/>
<path d="M339.1 278.6 L340.7 279.7" fill="none" stroke="#808080" stroke-width="1.35" stroke-linejoin="round" stroke-linecap="round"/>
<path d="M340.7 279.7 L343.9 280" fill="none" stroke="#808080" stroke-width="1.2" stroke-linejoin="round" stroke-linecap="round"/>
<path d="M343.9 280 L347.1 282.4 L350.2 285" fill="none" stroke="#808080" stroke-width="1.4" stroke-linejoin="round" stroke-linecap="round"/>
<path d="M350.2 285 L353.4 287.1" fill="none" stroke="#808080" stroke-width="1.35" stroke-linejoin="round" stroke-linecap="round"/>
<path d="M353.4 287.1 L355.5 288.7 L357.6 291.3" fill="none" stroke="#808080" stroke-width="1.4" stroke-linejoin="round" stroke-linecap="round"/>
<path d="M357.6 291.3 L361.8 291.8" fill="none" stroke="#808080" stroke-width="1.2" stroke-linejoin="round" stroke-linecap="round"/>
<path d="M361.8 291.8 L363.9 293" fill="none" stroke="#808080" stroke-width="1.35" stroke-linejoin="round" stroke-linecap="round"/>
<path d="M363.9 293 L373.7 292.9" fill="none" stroke="#808080" stroke-width="1.15" stroke-linejoin="round" stroke-linecap="round"/>
<path d="M373.7 292.9 L374.5 294.2" fill="none" stroke="#808080" stroke-width="1.35" stroke-linejoin="round" stroke-linecap="round"/>
<path d="M374.5 294.2 L401.9 294.2" fill="none" stroke="#808080" stroke-width="1.15" stroke-linejoin="round" stroke-linecap="round"/>
<path d="M401.9 294.2 L402.8 296" fill="none" stroke="#808080" stroke-width="1.35" stroke-linejoin="round" stroke-linecap="round"/>
<path d="M402.8 296 L423.5 296.2" fill="none" stroke="#808080" stroke-width="1.15" stroke-linejoin="round" stroke-linecap="round"/>
<path d="M423.5 296.2 L424.6 297.1" fill="none" stroke="#808080" stroke-width="1.4" stroke-linejoin="round" stroke-linecap="round"/>
<path d="M424.6 297.1 L445.4 297.1" fill="none" stroke="#808080" stroke-width="1.15" stroke-linejoin="round" stroke-linecap="round"/>
<path d="M445.4 297.1 L448.3 300" fill="none" stroke="#808080" stroke-width="1.4" stroke-linejoin="round" stroke-linecap="round"/>
<path d="M448.3 300 L475.4 300.1" fill="none" stroke="#808080" stroke-width="1.15" stroke-linejoin="round" stroke-linecap="round"/>
<path d="M475.4 300.1 L476.8 302" fill="none" stroke="#808080" stroke-width="1.4" stroke-linejoin="round" stroke-linecap="round"/>
<path d="M476.8 302 L514 302" fill="none" stroke="#808080" stroke-width="1.15" stroke-linejoin="round" stroke-linecap="round"/>
<path d="M303.2 215.2 L304.7 217.3" fill="none" stroke="#525252" stroke-width="1.3" stroke-linejoin="round" stroke-linecap="round"/>
<path d="M304.7 217.3 L305.8 220.4" fill="none" stroke="#525252" stroke-width="1.25" stroke-linejoin="round" stroke-linecap="round"/>
<path d="M305.8 220.4 L306.5 224.6" fill="none" stroke="#525252" stroke-width="1.2" stroke-linejoin="round" stroke-linecap="round"/>
<path d="M306.5 224.6 L307.1 229.9" fill="none" stroke="#525252" stroke-width="1.15" stroke-linejoin="round" stroke-linecap="round"/>
<path d="M307.1 229.9 L308.4 232" fill="none" stroke="#525252" stroke-width="1.3" stroke-linejoin="round" stroke-linecap="round"/>
<path d="M308.4 232 L309.5 236.2 L310.5 241.4 L311.6 246.7" fill="none" stroke="#525252" stroke-width="1.2" stroke-linejoin="round" stroke-linecap="round"/>
<path d="M311.6 246.7 L312.4 249.2" fill="none" stroke="#525252" stroke-width="1.25" stroke-linejoin="round" stroke-linecap="round"/>
<path d="M312.4 249.2 L313.4 253.4" fill="none" stroke="#525252" stroke-width="1.2" stroke-linejoin="round" stroke-linecap="round"/>
<path d="M313.4 253.4 L315 257.6" fill="none" stroke="#525252" stroke-width="1.25" stroke-linejoin="round" stroke-linecap="round"/>
<path d="M315 257.6 L317.6 260.6" fill="none" stroke="#525252" stroke-width="1.35" stroke-linejoin="round" stroke-linecap="round"/>
<path d="M317.6 260.6 L319.9 262.1 L321.2 264.3" fill="none" stroke="#525252" stroke-width="1.3" stroke-linejoin="round" stroke-linecap="round"/>
<path d="M321.2 264.3 L322.1 268.1" fill="none" stroke="#525252" stroke-width="1.2" stroke-linejoin="round" stroke-linecap="round"/>
<path d="M322.1 268.1 L323.4 270.6 L324.9 272.5 L326.5 273.4 L328.1 276.3 L330 279.4" fill="none" stroke="#525252" stroke-width="1.3" stroke-linejoin="round" stroke-linecap="round"/>
<path d="M330 279.4 L330.9 282" fill="none" stroke="#525252" stroke-width="1.25" stroke-linejoin="round" stroke-linecap="round"/>
<path d="M330.9 282 L331.3 284.5" fill="none" stroke="#525252" stroke-width="1.2" stroke-linejoin="round" stroke-linecap="round"/>
<path d="M331.3 284.5 L331.6 287.5 L331.8 289.5" fill="none" stroke="#525252" stroke-width="1.15" stroke-linejoin="round" stroke-linecap="round"/>
<path d="M331.8 289.5 L332.8 292.2" fill="none" stroke="#525252" stroke-width="1.25" stroke-linejoin="round" stroke-linecap="round"/>
<path d="M332.8 292.2 L334.5 294.2" fill="none" stroke="#525252" stroke-width="1.35" stroke-linejoin="round" stroke-linecap="round"/>
<path d="M334.5 294.2 L336 295.2 L337.6 298.6 L339.7 302.3 L341.8 303.9 L343.9 306.5" fill="none" stroke="#525252" stroke-width="1.3" stroke-linejoin="round" stroke-linecap="round"/>
<path d="M343.9 306.5 L346 308.6 L347.6 310.2" fill="none" stroke="#525252" stroke-width="1.35" stroke-linejoin="round" stroke-linecap="round"/>
<path d="M347.6 310.2 L352.3 310.7" fill="none" stroke="#525252" stroke-width="1.15" stroke-linejoin="round" stroke-linecap="round"/>
<path d="M352.3 310.7 L354.4 313.9" fill="none" stroke="#525252" stroke-width="1.3" stroke-linejoin="round" stroke-linecap="round"/>
<path d="M354.4 313.9 L356.5 314.7" fill="none" stroke="#525252" stroke-width="1.25" stroke-linejoin="round" stroke-linecap="round"/>
<path d="M356.5 314.7 L369 314.8" fill="none" stroke="#525252" stroke-width="1.1" stroke-linejoin="round" stroke-linecap="round"/>
<path d="M369 314.8 L370.2 316.5" fill="none" stroke="#525252" stroke-width="1.3" stroke-linejoin="round" stroke-linecap="round"/>
<path d="M370.2 316.5 L396.7 316.5" fill="none" stroke="#525252" stroke-width="1.1" stroke-linejoin="round" stroke-linecap="round"/>
<path d="M396.7 316.5 L397.9 317.9" fill="none" stroke="#525252" stroke-width="1.35" stroke-linejoin="round" stroke-linecap="round"/>
<path d="M397.9 317.9 L404.2 318.2" fill="none" stroke="#525252" stroke-width="1.15" stroke-linejoin="round" stroke-linecap="round"/>
<path d="M404.2 318.2 L405.4 319.4" fill="none" stroke="#525252" stroke-width="1.35" stroke-linejoin="round" stroke-linecap="round"/>
<path d="M405.4 319.4 L442.5 319.6" fill="none" stroke="#525252" stroke-width="1.1" stroke-linejoin="round" stroke-linecap="round"/>
<path d="M442.5 319.6 L444.8 320.9" fill="none" stroke="#525252" stroke-width="1.3" stroke-linejoin="round" stroke-linecap="round"/>
<path d="M444.8 320.9 L489 320.9" fill="none" stroke="#525252" stroke-width="1.1" stroke-linejoin="round" stroke-linecap="round"/>
<path d="M489 320.9 L490.3 321.7 L493 323.1 L494.9 324.4" fill="none" stroke="#525252" stroke-width="1.3" stroke-linejoin="round" stroke-linecap="round"/>
<path d="M494.9 324.4 L514 324.4" fill="none" stroke="#525252" stroke-width="1.1" stroke-linejoin="round" stroke-linecap="round"/>
<text transform="matrix(0.97 0.001 0 1 489.67 296.4)" font-size="7.0" style="stroke-width:0.32px">G-CSF</text>
<text transform="matrix(1.0 0.001 0 1 486.2 296)" font-size="5.9" text-anchor="middle">+</text>
<text transform="matrix(0.97 0.001 0 1 490.47 331)" font-size="7.0" style="stroke-width:0.32px">G-CSF</text>
<text transform="matrix(1.0 0.001 0 1 487.3 330.85)" font-size="5.2" text-anchor="middle">-</text>
<text transform="translate(7 94) rotate(-90) matrix(0.985 0.001 0 1 0 0)" text-anchor="middle" font-size="7.1">Cumulative percentage</text>
<text transform="translate(271 94) rotate(-90) matrix(0.985 0.001 0 1 0 0)" text-anchor="middle" font-size="7.1">Cumulative percentage</text>
<text transform="translate(7 290.3) rotate(-90) matrix(0.985 0.001 0 1 0 0)" text-anchor="middle" font-size="7.1">Cumulative percentage</text>
<text transform="translate(271 290.3) rotate(-90) matrix(0.985 0.001 0 1 0 0)" text-anchor="middle" font-size="7.1">Cumulative percentage</text>
</g>
</svg>
</body></html>
